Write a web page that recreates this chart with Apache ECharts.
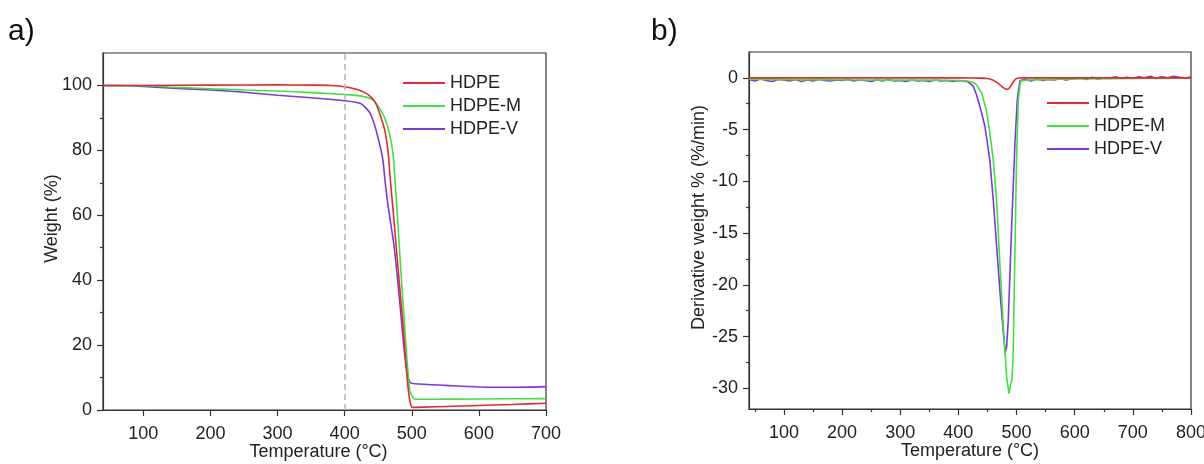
<!DOCTYPE html>
<html>
<head>
<meta charset="utf-8">
<style>
  html, body { margin: 0; padding: 0; background: #fff; }
  #chart { width: 1204px; height: 464px; }
</style>
<script src="https://cdn.jsdelivr.net/npm/echarts@6/dist/echarts.min.js"></script>
</head>
<body>
<div id="chart"></div>
<script>
/* global echarts */

const seriesNames = ['HDPE', 'HDPE-M', 'HDPE-V'];
const seriesColors = ['#e8282c', '#3de33d', '#7a38e4'];

// a) TGA, [temperature °C, weight %]
const tgaHDPE = [[40, 100], [100, 100], [200, 100.1], [300, 100.2], [350, 100.1], [380, 100], [400, 99.6], [420, 98.7],
  [435, 97.2], [445, 95], [452, 91.5], [460, 86], [465, 79], [468, 71], [472, 62], [477, 50], [482, 38], [487, 26],
  [491, 15], [495, 6], [498, 2], [501, 0.8], [520, 0.9], [550, 1.1], [600, 1.4], [650, 1.7], [700, 2.1]];
const tgaHDPEM = [[40, 100], [100, 99.9], [150, 99.4], [200, 99], [250, 98.6], [300, 98.3], [350, 97.8], [400, 97.2],
  [423, 96.8], [438, 96], [445, 95], [452, 93], [460, 89.8], [467, 85], [472, 79], [475, 71], [478, 62], [481, 52],
  [484, 42], [488, 30], [492, 18], [497, 6], [500, 4.5], [504, 3.4], [520, 3.3], [600, 3.4], [700, 3.5]];
const tgaHDPEV = [[40, 100], [80, 99.9], [100, 99.7], [150, 99.1], [200, 98.6], [250, 97.9], [300, 97], [350, 96.2],
  [400, 95.3], [423, 94.5], [430, 93.4], [438, 91.4], [445, 87.5], [452, 82], [457, 77], [460, 71], [464, 64],
  [469, 57], [474, 50], [479, 40], [484, 29], [489, 18], [494, 10.5], [498, 8.4], [505, 8.1], [550, 7.6], [600, 7.1],
  [650, 7.0], [700, 7.2]];

// b) DTG, [temperature °C, derivative weight %/min]
const dtgHDPE = [[40, 0], [100, 0], [200, 0], [300, 0], [400, 0], [440, -0.02], [450, -0.06], [460, -0.22],
  [468, -0.5], [474, -0.8], [479, -1.02], [483, -1.1], [487, -1.02], [491, -0.7], [495, -0.35], [499, -0.1],
  [503, -0.02], [510, 0], [600, 0], [700, 0], [800, 0]];
const dtgHDPEM = [[40, -0.1], [60, -0.15], [80, -0.12], [100, -0.15], [130, -0.18], [160, -0.15], [200, -0.18],
  [240, -0.2], [280, -0.22], [320, -0.2], [360, -0.22], [400, -0.25], [415, -0.3], [423, -0.4], [431, -0.65],
  [440, -1.45], [448, -3.1], [454, -5.3], [460, -7.9], [466, -12.1], [471, -17.6], [477, -23.7], [483, -28.9],
  [487, -30.5], [490, -29.6], [492, -29.2], [494, -27.3], [497, -17.6], [500, -7.9], [503, -2.1], [507, -0.3],
  [520, -0.2], [560, -0.15], [600, -0.1], [650, -0.08], [700, -0.05], [750, -0.05], [800, -0.03]];
const dtgHDPEV = [[40, -0.15], [50, -0.3], [60, -0.1], [70, -0.25], [80, -0.35], [90, -0.15], [100, -0.2], [110, -0.3],
  [120, -0.15], [130, -0.35], [140, -0.2], [150, -0.3], [160, -0.15], [170, -0.25], [180, -0.3], [190, -0.2],
  [200, -0.25], [210, -0.15], [220, -0.3], [230, -0.2], [240, -0.25], [250, -0.35], [260, -0.2], [270, -0.3],
  [280, -0.15], [290, -0.3], [300, -0.25], [310, -0.35], [320, -0.2], [330, -0.3], [340, -0.25], [350, -0.35],
  [360, -0.2], [370, -0.3], [380, -0.25], [390, -0.35], [400, -0.25], [410, -0.3], [417, -0.4], [425.6, -0.8],
  [431, -1.6], [437, -2.75], [445.7, -4.7], [454, -7.9], [460, -11.8], [465.8, -16.3], [472.7, -21.5],
  [478.4, -25.3], [480.6, -26.55], [483, -26], [485.8, -23.4], [491.6, -14.4], [497.3, -6.3], [501.3, -2.1],
  [506, -0.25], [515, -0.15], [525, -0.3], [535, -0.1], [545, -0.25], [555, -0.15], [565, -0.2], [575, -0.05],
  [585, -0.2], [595, -0.1], [610, 0], [620, -0.15], [630, 0.05], [640, -0.1], [650, 0], [660, -0.05], [670, 0.1],
  [680, -0.05], [690, 0.05], [700, -0.05], [710, 0.1], [720, 0], [730, 0.15], [740, -0.05], [750, 0.1], [760, 0],
  [770, 0.15], [780, 0.05], [790, -0.05], [800, 0.1]];

// tick labels
const xTicksA = [100, 200, 300, 400, 500, 600, 700];
const yTicksA = [0, 20, 40, 60, 80, 100];
const yMinorA = [10, 30, 50, 70, 90];
const xTicksB = [100, 200, 300, 400, 500, 600, 700, 800];
const xMinorB = [50, 150, 250, 350, 450, 550, 650, 750];
const yTicksB = [-30, -25, -20, -15, -10, -5, 0];
const yMinorB = [-27.5, -22.5, -17.5, -12.5, -7.5, -2.5];

const FONT = '"Liberation Sans", Arial, sans-serif';
const INK = '#222';
const LINE = '#333';

function mainAxis (gridIndex, min, max, ticks, margin, extra) {
  return Object.assign({
    type: 'value',
    gridIndex: gridIndex,
    min: min,
    max: max,
    axisLine: { show: true, onZero: false, lineStyle: { color: LINE, width: 1.2 } },
    axisTick: { show: true, inside: false, length: 6, customValues: ticks, lineStyle: { color: LINE, width: 1.2 } },
    axisLabel: { customValues: ticks, fontSize: 18, color: INK, fontFamily: FONT, margin: margin },
    splitLine: { show: false },
    nameLocation: 'middle',
    nameMoveOverlap: false,
    nameTextStyle: { fontSize: 18, color: INK, fontFamily: FONT }
  }, extra || {});
}

function minorAxis (gridIndex, min, max, ticks, position) {
  return {
    type: 'value',
    gridIndex: gridIndex,
    min: min,
    max: max,
    position: position,
    axisLine: { show: false, onZero: false },
    axisTick: { show: true, inside: false, length: 3, customValues: ticks, lineStyle: { color: LINE, width: 1.2 } },
    axisLabel: { show: false },
    splitLine: { show: false }
  };
}

function lineSeries (i, data, xIdx, yIdx, smooth) {
  return {
    name: seriesNames[i],
    type: 'line',
    xAxisIndex: xIdx,
    yAxisIndex: yIdx,
    data: data,
    symbol: 'none',
    smooth: smooth,
    z: 3 - i,
    lineStyle: { color: seriesColors[i], width: 1.6 },
    itemStyle: { color: seriesColors[i] }
  };
}

function legendAt (left, top) {
  return {
    orient: 'vertical',
    left: left,
    top: top,
    padding: 0,
    icon: 'rect',
    itemWidth: 42,
    itemHeight: 2,
    itemGap: 5,
    selectedMode: false,
    data: seriesNames,
    textStyle: { fontSize: 18, lineHeight: 18, color: INK, fontFamily: FONT }
  };
}

const chart = echarts.init(document.getElementById('chart'), null, { renderer: 'canvas' });

const hdpeA = lineSeries(0, tgaHDPE, 0, 0, 0.25);
hdpeA.markLine = {
  silent: true,
  symbol: 'none',
  label: { show: false },
  lineStyle: { color: '#b8b8b8', type: [6, 4], width: 1.6 },
  data: [{ xAxis: 400 }]
};

const gridBase = { show: true, borderColor: LINE, borderWidth: 1.2, backgroundColor: 'transparent', outerBoundsMode: 'none' };

chart.setOption({
  animation: false,
  textStyle: { fontFamily: FONT },
  grid: [
    Object.assign({ left: 103, right: 658, top: 53, bottom: 54 }, gridBase),
    Object.assign({ left: 749, right: 13, top: 52, bottom: 55 }, gridBase)
  ],
  legend: [legendAt(403, 74), legendAt(1047, 94)],
  xAxis: [
    mainAxis(0, 40, 700, xTicksA, 15, {
      name: 'Temperature (°C)', nameGap: 33,
      nameTextStyle: { fontSize: 18, color: INK, fontFamily: FONT, padding: [0, 12, 0, 0] }
    }),
    mainAxis(1, 40, 800, xTicksB, 15, { name: 'Temperature (°C)', nameGap: 33 }),
    minorAxis(1, 40, 800, xMinorB, 'bottom')
  ],
  yAxis: [
    mainAxis(0, 0, 110, yTicksA, 11, {
      name: 'Weight (%)', nameGap: 42,
      nameTextStyle: { fontSize: 18, color: INK, fontFamily: FONT, padding: [0, 0, 0, 26] }
    }),
    minorAxis(0, 0, 110, yMinorA, 'left'),
    mainAxis(1, -32, 2.5, yTicksB, 11, {
      name: 'Derivative weight % (%/min)', nameGap: 41,
      nameTextStyle: { fontSize: 18, color: INK, fontFamily: FONT, padding: [0, 0, 0, 26] }
    }),
    minorAxis(1, -32, 2.5, yMinorB, 'left')
  ],
  series: [
    hdpeA,
    lineSeries(1, tgaHDPEM, 0, 0, 0.25),
    lineSeries(2, tgaHDPEV, 0, 0, 0.25),
    lineSeries(0, dtgHDPE, 1, 2, 0.2),
    lineSeries(1, dtgHDPEM, 1, 2, false),
    lineSeries(2, dtgHDPEV, 1, 2, false)
  ],
  graphic: [
    { type: 'text', left: 8, top: 17, style: { text: 'a)', font: '30px ' + FONT, fill: '#111' } },
    { type: 'text', left: 651, top: 17, style: { text: 'b)', font: '30px ' + FONT, fill: '#111' } }
  ]
});

window.addEventListener('resize', () => chart.resize());
</script>
</body>
</html>
